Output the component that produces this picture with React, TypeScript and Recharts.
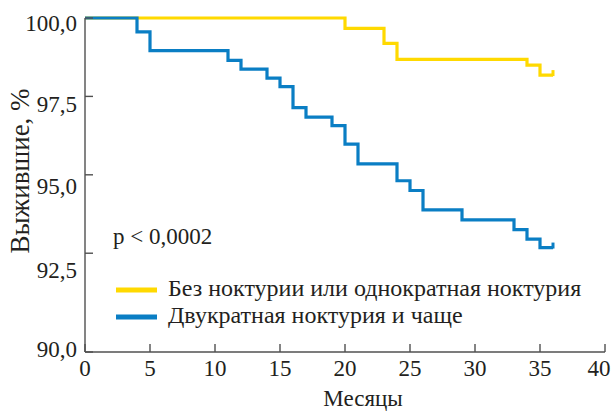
import React from "react";
import { LineChart, Line, XAxis, YAxis } from "recharts";

// Kaplan–Meier steps (months, % surviving)
const noNocturiaMonths = [0, 20, 23, 24, 34, 35, 36];
const noNocturiaSurvival = [100, 99.67, 99.19, 98.68, 98.5, 98.18, 98.18];

const nocturiaMonths = [
  0, 4, 5, 11, 12, 14, 15, 16, 17, 19, 20, 21, 24, 25, 26, 29, 33, 34, 35, 36,
];
const nocturiaSurvival = [
  100, 99.56, 98.96, 98.65, 98.37, 98.08, 97.81, 97.14, 96.84, 96.57, 95.98,
  95.35, 94.81, 94.5, 93.88, 93.56, 93.25, 92.95, 92.68, 92.68,
];

const xTicks = [0, 5, 10, 15, 20, 25, 30, 35, 40];
// the axis runs a little below the even 2.5 step; its bottom is labelled 90,0
const yBottom = 89.35;
const yTicks = [yBottom, 92.5, 95, 97.5, 100];

const seriesNames = [
  "Без ноктурии или однократная ноктурия",
  "Двукратная ноктурия и чаще",
];
const pValueText = "p < 0,0002";
const xTitle = "Месяцы";
const yTitle = "Выжившие, %";

const YELLOW = "#FFD900";
const BLUE = "#0A7EC4";
const INK = "#231F20";
const AXIS = "#505050";
const FONT = "Liberation Serif, Times New Roman, DejaVu Serif, Noto Serif, serif";

const noNocturiaData = noNocturiaMonths.map((m, i) => ({ month: m, value: noNocturiaSurvival[i] }));
const nocturiaData = nocturiaMonths.map((m, i) => ({ month: m, value: nocturiaSurvival[i] }));

// labels in the original sit a bit off their tick marks
const yLabelShift = (v: number) => (v < 90 ? -3 : v === 92.5 ? 17 : v === 95 ? 12 : v === 97.5 ? 8 : 5);
const fmtY = (v: number) => (v < 90 ? "90,0" : v.toFixed(1).replace(".", ","));

function YTick(props: any) {
  const { x, y, payload } = props;
  return (
    <text x={x} y={y + yLabelShift(payload.value)} textAnchor="end" dominantBaseline="central" fill={INK} style={{ fontSize: 23, fontFamily: FONT }}>
      {fmtY(payload.value)}
    </text>
  );
}

function XTick(props: any) {
  const { x, y, payload } = props;
  const dx = payload.value === 40 ? -6 : 0;
  return (
    <text x={x + dx} y={y} dy="0.8em" textAnchor="middle" fill={INK} style={{ fontSize: 23, fontFamily: FONT }}>
      {payload.value}
    </text>
  );
}

function censorMark(color: string, lastIndex: number) {
  return (props: any) => {
    const { cx, cy, index } = props;
    if (index !== lastIndex) return <g key={`d-${index}`} />;
    return <line key={`d-${index}`} x1={cx} x2={cx} y1={cy + 1} y2={cy - 5} stroke={color} strokeWidth={3} />;
  };
}

export default function App() {
  const legendColors = [YELLOW, BLUE];
  return (
    <div style={{ position: "absolute", left: 0, top: 0, width: 615, height: 411, background: "#fff", fontFamily: FONT }}>
      <LineChart width={615} height={411} margin={{ top: 18, right: 10, left: 0, bottom: 0 }}>
        <XAxis
          dataKey="month"
          type="number"
          domain={[0, 40]}
          ticks={xTicks}
          allowDuplicatedCategory={false}
          height={59}
          axisLine={{ stroke: AXIS, strokeWidth: 1.4 }}
          tickLine={{ stroke: AXIS, strokeWidth: 1.4 }}
          tickSize={-8}
          tickMargin={14}
          tick={<XTick />}
          interval={0}
        />
        <YAxis
          type="number"
          domain={[yBottom, 100]}
          ticks={yTicks}
          width={85}
          axisLine={{ stroke: AXIS, strokeWidth: 1.4 }}
          tickLine={{ stroke: AXIS, strokeWidth: 1.4 }}
          tickSize={-8}
          tickMargin={16}
          tick={<YTick />}
          interval={0}
        />
        <Line
          data={noNocturiaData}
          dataKey="value"
          type="stepAfter"
          stroke={YELLOW}
          strokeWidth={3.2}
          dot={censorMark(YELLOW, noNocturiaData.length - 1)}
          activeDot={false}
          isAnimationActive={false}
        />
        <Line
          data={nocturiaData}
          dataKey="value"
          type="stepAfter"
          stroke={BLUE}
          strokeWidth={3.2}
          dot={censorMark(BLUE, nocturiaData.length - 1)}
          activeDot={false}
          isAnimationActive={false}
        />
      </LineChart>
      <svg width={615} height={411} style={{ position: "absolute", left: 0, top: 0, pointerEvents: "none", fontFamily: FONT }}>
        <g fill={INK}>
          <text x={113} y={244} style={{ fontSize: 23 }}>{pValueText}</text>
          {seriesNames.map((name, i) => (
            <g key={name}>
              <rect x={116} y={288 + i * 27 - 0.5} width={41} height={5} fill={legendColors[i]} />
              <text x={168} y={296 + i * 27} style={{ fontSize: 24 }}>{name}</text>
            </g>
          ))}
          <text x={363} y={406} textAnchor="middle" style={{ fontSize: 23 }}>{xTitle}</text>
          <text transform="translate(20,171) rotate(-90)" textAnchor="middle" dominantBaseline="central" style={{ fontSize: 27 }}>
            {yTitle}
          </text>
        </g>
      </svg>
    </div>
  );
}
